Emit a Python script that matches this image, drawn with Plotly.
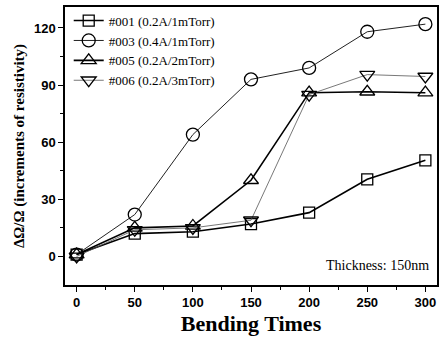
import plotly.graph_objects as go

bending = [0, 50, 100, 150, 200, 250, 300]
s001 = [1, 12, 13, 17, 23, 40.5, 50.5]
s003 = [1, 22, 64, 93, 99, 118, 122]
s005 = [1, 15, 16, 40, 86, 86.5, 86]
s006 = [0, 14, 15, 19, 85, 95.5, 94.5]

names = ["#001 (0.2A/1mTorr)", "#003 (0.4A/1mTorr)", "#005 (0.2A/2mTorr)", "#006 (0.2A/3mTorr)"]
series = [s001, s003, s005, s006]
symbols = ["square-open", "circle-open", "triangle-up-open", "triangle-down-open"]
line_w = [1.6, 1.0, 1.6, 0.8]
line_c = ["black", "#222", "black", "#555"]
msize = [11, 13, 13, 13]

fig = go.Figure()
for n, s, sym, lw, lc, ms in zip(names, series, symbols, line_w, line_c, msize):
    fig.add_trace(go.Scatter(
        x=bending, y=s, name=n, mode="lines+markers",
        line=dict(color=lc, width=lw),
        marker=dict(symbol=sym, size=ms, color="black", line=dict(width=1.3, color="black")),
    ))

tickfont = dict(family="Liberation Sans, Arial", size=13, color="black", weight="bold")
fig.update_layout(
    width=441, height=338,
    margin=dict(l=65, r=2, t=7, b=53),
    paper_bgcolor="white", plot_bgcolor="white",
    showlegend=True,
    legend=dict(x=0.01, y=1.005, xanchor="left", yanchor="top",
                font=dict(family="Liberation Serif, Times New Roman", size=13, color="black"),
                bgcolor="rgba(0,0,0,0)", tracegroupgap=0, itemwidth=30),
    xaxis=dict(range=[-10, 310], tickvals=[0, 50, 100, 150, 200, 250, 300],
               ticks="outside", ticklen=5, tickwidth=1.2, tickcolor="black",
               minor=dict(tickvals=[25, 75, 125, 175, 225, 275], ticks="outside", ticklen=3, tickcolor="black"),
               showline=True, linecolor="black", linewidth=1.5, mirror=True,
               showgrid=False, zeroline=False, tickfont=tickfont,
               title=dict(text="Bending Times", standoff=6,
                          font=dict(family="Liberation Serif, Times New Roman", size=22, color="black", weight="bold"))),
    yaxis=dict(range=[-15, 131], tickvals=[0, 30, 60, 90, 120],
               ticks="outside", ticklen=5, tickwidth=1.2, tickcolor="black",
               minor=dict(tickvals=[15, 45, 75, 105], ticks="outside", ticklen=3, tickcolor="black"),
               showline=True, linecolor="black", linewidth=1.5, mirror=True,
               showgrid=False, zeroline=False, tickfont=tickfont,
               title=dict(text="ΔΩ/Ω (increments of resistivity)", standoff=6,
                          font=dict(family="Liberation Serif, Times New Roman", size=15, color="black", weight="bold"))),
    annotations=[dict(text="Thickness: 150nm", xref="paper", yref="paper", x=0.985, y=0.035,
                      xanchor="right", yanchor="bottom", showarrow=False,
                      font=dict(family="Liberation Serif, Times New Roman", size=14, color="black"))],
)
fig.write_html("out.html", config={"displayModeBar": False},
               post_script="document.body.style.margin='0';document.body.style.overflow='hidden';")
